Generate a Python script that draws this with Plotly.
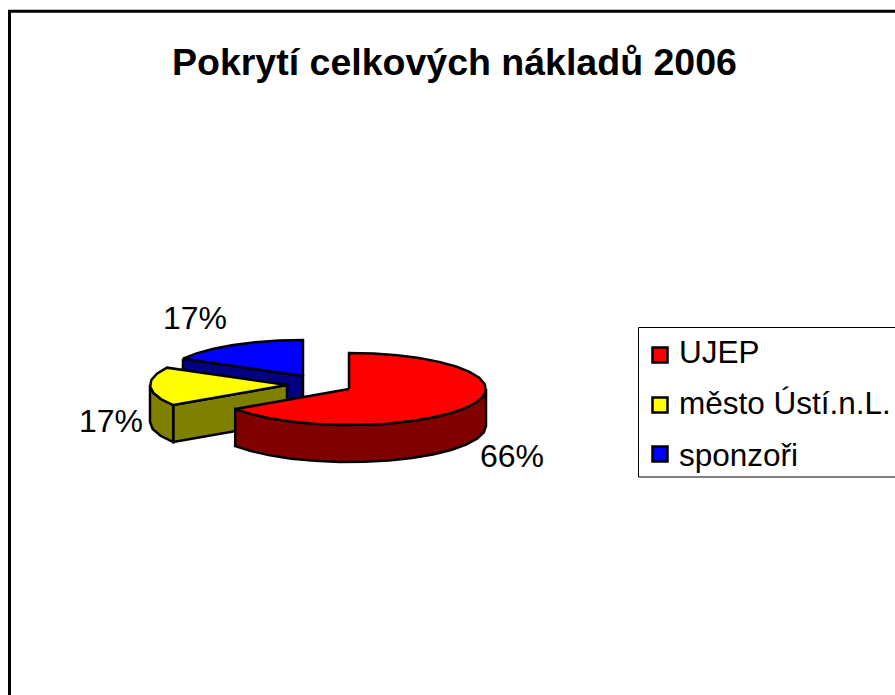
import numpy as np
import plotly.graph_objects as go

categories = ["UJEP", "město Ústí.n.L.", "sponzoři"]
values = [65.6, 17.4, 17.0]
pct_labels = ["66%", "17%", "17%"]
top_colors = ["#ff0000", "#ffff00", "#0000ff"]
side_colors = ["#800000", "#808000", "#000080"]
title_text = "Pokrytí celkových nákladů 2006"

# pie geometry in page pixels
RX, RY, DEPTH = 137, 36, 37
apexes = [(349, 389), (287, 385), (303, 376)]
label_xy = [(512, 459), (111, 424), (195, 321)]
STEP = 10.0  # the reference arc is a coarse polygon


def pt(c, a, dy=0.0):
    r = np.radians(a)
    return c[0] + RX * np.sin(r), c[1] - RY * np.cos(r) + dy


def arc(a0, a1):
    n = max(2, int(abs(a1 - a0) / STEP) + 1)
    return np.linspace(a0, a1, n)


fig = go.Figure()


def add_poly(xs, ys, color):
    fig.add_trace(go.Scatter(x=list(xs) + [xs[0]], y=list(ys) + [ys[0]], mode="lines",
                             fill="toself", fillcolor=color, hoverinfo="skip",
                             line=dict(color="black", width=2.5, simplify=False),
                             showlegend=False))


total = sum(values)
starts = np.cumsum([0] + values[:-1]) / total * 360
ends = np.cumsum(values) / total * 360

# painted back to front: sponsors, city, UJEP
for i in [2, 1, 0]:
    c, a0, a1 = apexes[i], starts[i], ends[i]
    # cut face on the slice's starting radius, visible for the two small slices
    if i in (1, 2):
        p = pt(c, a0)
        q = pt(c, a0, DEPTH)
        add_poly([p[0], c[0], c[0], q[0]], [p[1], c[1], c[1] + DEPTH, q[1]], side_colors[i])
    # outer wall: only the front half of the ellipse
    f0, f1 = max(a0, 90), min(a1, 270)
    if f1 > f0:
        ang = arc(f0, f1)
        tx, ty = pt(c, ang)
        bx, by = pt(c, ang, DEPTH)
        add_poly(np.r_[tx, bx[::-1]], np.r_[ty, by[::-1]], side_colors[i])
    # top face
    ang = arc(a0, a1)
    tx, ty = pt(c, ang)
    add_poly(np.r_[c[0], tx], np.r_[c[1], ty], top_colors[i])

# percentage labels
fig.add_trace(go.Scatter(x=[p[0] for p in label_xy], y=[p[1] for p in label_xy],
                         mode="text", text=pct_labels, textposition="middle center",
                         textfont=dict(family="Liberation Sans", size=32, color="black"),
                         hoverinfo="skip", showlegend=False))

# legend drawn on the same page axes for its row spacing
legend_y = [355, 405, 454]
legend_text_y = [352, 403, 455]
legend_text_x = 679
legend_swatch_x = 660
fig.add_trace(go.Scatter(x=[legend_swatch_x] * 3, y=legend_y, mode="markers",
                         marker=dict(symbol="square", size=15, color=top_colors,
                                     line=dict(color="black", width=2.5)),
                         hoverinfo="skip", showlegend=False))
for name, y in zip(categories, legend_text_y):
    fig.add_annotation(x=legend_text_x, y=y, text=name, showarrow=False, xanchor="left",
                       yanchor="middle", xshift=-2,
                       font=dict(family="Liberation Sans", size=31.5, color="black"))

fig.add_shape(type="rect", x0=638.5, y0=327.5, x1=900, y1=477,
              line=dict(color="black", width=1), fillcolor="white", layer="below")
fig.add_shape(type="rect", x0=9.5, y0=11.3, x1=900, y1=720,
              line=dict(color="black", width=3), fillcolor="rgba(0,0,0,0)", layer="below")

fig.add_annotation(x=454.5, y=62, text="<b>%s</b>" % title_text, showarrow=False,
                   font=dict(family="Liberation Sans", size=37.5, color="black"))

fig.update_layout(width=895, height=695, autosize=False,
                  margin=dict(l=0, r=0, t=0, b=0),
                  paper_bgcolor="white", plot_bgcolor="white", showlegend=False,
                  xaxis=dict(range=[0, 895], visible=False, fixedrange=True),
                  yaxis=dict(range=[695, 0], visible=False, fixedrange=True))
fig.write_html("out.html", config=dict(displayModeBar=False),
               post_script="document.body.style.margin='0';document.body.style.overflow='hidden';")
